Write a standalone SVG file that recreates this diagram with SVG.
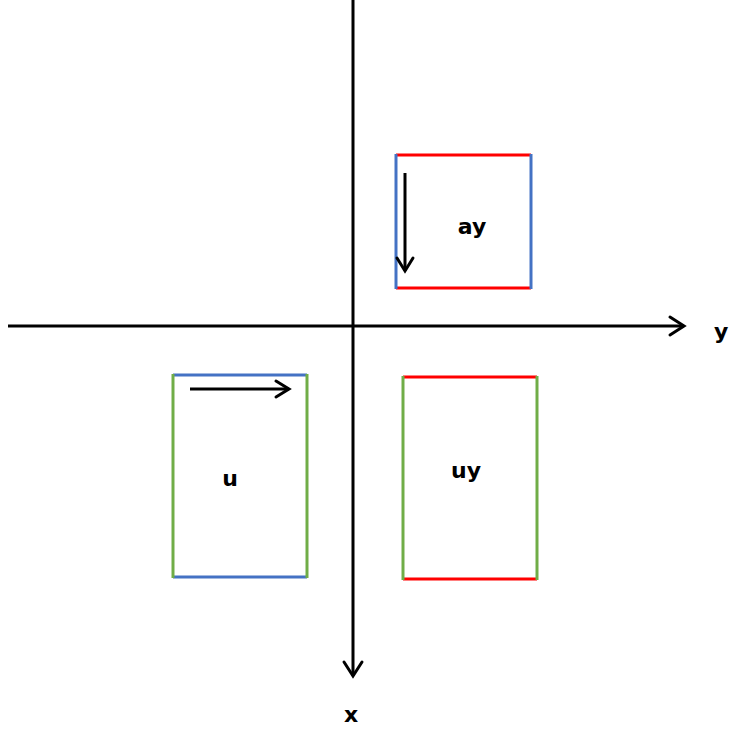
<svg xmlns="http://www.w3.org/2000/svg" width="729" height="729" viewBox="0 0 729 729">
<style>
.lbl{font-family:"DejaVu Sans","Liberation Sans",sans-serif;font-weight:bold;font-size:22px;fill:#000}
.ax{stroke:#000;stroke-width:3;fill:none}
.hd{stroke:#000;stroke-width:3;fill:none;stroke-linecap:round;stroke-linejoin:miter}
.red{stroke:#ff0000;stroke-width:3}
.blue{stroke:#4472c4;stroke-width:3}
.green{stroke:#70ad47;stroke-width:3}
</style>
<rect width="729" height="729" fill="#fff"/>
<g id="connectors">
  <line class="ax" x1="8" y1="326" x2="684" y2="326"/>
  <polyline class="hd" points="670,317 684,326 670,335"/>
  <line class="ax" x1="353" y1="0" x2="353" y2="676"/>
  <polyline class="hd" points="344,662 353,676 362,662"/>
</g>
<g id="axis-labels">
  <text class="lbl" x="714" y="339">y</text>
  <text class="lbl" x="344" y="722">x</text>
</g>
<g id="node-ay">
  <line class="red" x1="396" y1="155" x2="531" y2="155"/>
  <line class="red" x1="396" y1="288" x2="531" y2="288"/>
  <line class="blue" x1="396" y1="154" x2="396" y2="289"/>
  <line class="blue" x1="531" y1="154" x2="531" y2="289"/>
  <line class="ax" x1="405" y1="173" x2="405" y2="271"/>
  <polyline class="hd" points="397,258 405,271 413,258"/>
  <text class="lbl" x="472" y="234" text-anchor="middle">ay</text>
</g>
<g id="node-u">
  <line class="blue" x1="173" y1="375" x2="307" y2="375"/>
  <line class="blue" x1="173" y1="577" x2="307" y2="577"/>
  <line class="green" x1="173" y1="374" x2="173" y2="578"/>
  <line class="green" x1="307" y1="374" x2="307" y2="578"/>
  <line class="ax" x1="190" y1="389" x2="289" y2="389"/>
  <polyline class="hd" points="276,381 289,389 276,397"/>
  <text class="lbl" x="230" y="486" text-anchor="middle">u</text>
</g>
<g id="node-uy">
  <line class="red" x1="403" y1="377" x2="537" y2="377"/>
  <line class="red" x1="403" y1="579" x2="537" y2="579"/>
  <line class="green" x1="403" y1="376" x2="403" y2="580"/>
  <line class="green" x1="537" y1="376" x2="537" y2="580"/>
  <text class="lbl" x="466" y="478" text-anchor="middle">uy</text>
</g>
</svg>
